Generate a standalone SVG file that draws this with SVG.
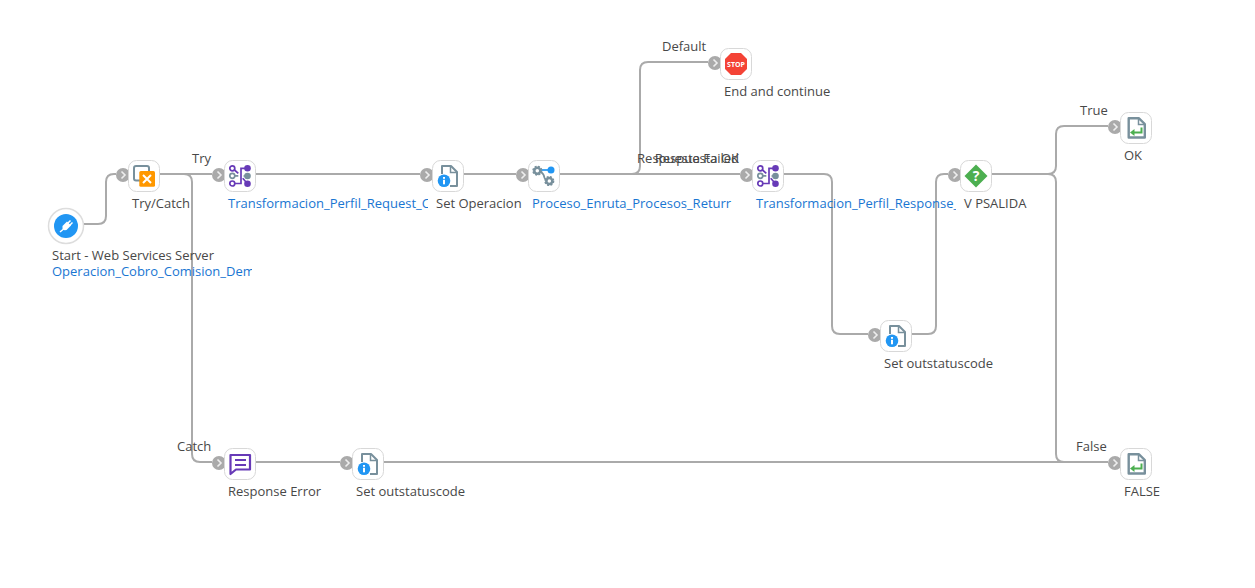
<svg xmlns="http://www.w3.org/2000/svg" width="1255" height="588" viewBox="0 0 1255 588">
<style>
text{font-family:"Open Sans","Noto Sans",sans-serif;font-size:13px;fill:#484848}
text.l{fill:#1976d2}
.c{fill:none;stroke:#aaa;stroke-width:2}
.b{fill:#fff;stroke:#d8d8d8;stroke-width:1}
.p{fill:#aaa}
.pc{fill:none;stroke:#eee;stroke-width:1.600}
.g{fill:none;stroke:#78909c;stroke-width:2}
.v{fill:none;stroke:#673ab7;stroke-width:1.700}
</style>
<defs>
<clipPath id="c1"><rect x="40" y="262" width="212" height="20"/></clipPath>
<clipPath id="c2"><rect x="224" y="194" width="204" height="20"/></clipPath>
<clipPath id="c3"><rect x="528" y="194" width="204" height="20"/></clipPath>
<clipPath id="c4"><rect x="752" y="194" width="204" height="20"/></clipPath>
<g id="box"><rect class="b" x="0.5" y="0.5" width="31" height="31" rx="8"/></g>
<g id="port"><circle class="p" r="7"/><path class="pc" d="M-1.500-3.500L2 0L-1.500 3.500"/></g>
<g id="map">
<use href="#box"/>
<circle class="v" cx="8.300" cy="8.300" r="2.500"/><circle class="g" style="stroke-width:1.700" cx="8.300" cy="15.800" r="2.500"/><circle class="v" cx="8.300" cy="23.500" r="2.500"/>
<circle cx="23.500" cy="8.300" r="3.300" fill="#673ab7"/><circle cx="23.500" cy="16" r="3.300" fill="#78909c"/><circle cx="23.500" cy="23.700" r="3.300" fill="#673ab7"/>
<path class="v" d="M10.500 10L14.300 13.300M10.800 23.500H17V8.300H22"/><path class="g" style="stroke-width:1.700" d="M11 15.800H14.300M19.500 16H23"/><path class="v" d="M18.700 18.300L22.700 22.700"/>
</g>
<g id="info">
<use href="#box"/>
<path class="g" d="M10 14V6H19L25 12V26H18" stroke-linejoin="round"/><path class="g" style="stroke-width:1.500" d="M18.500 6V12.500H25"/>
<circle cx="12" cy="20.700" r="6.300" fill="#2196f3"/><rect x="11" y="19.800" width="2" height="4.500" fill="#fff"/><rect x="11" y="17" width="2" height="1.800" fill="#fff"/>
</g>
<g id="ret">
<use href="#box"/>
<path class="g" style="stroke-width:2.400" d="M8.700 6.300H19L24.800 12V25.500H8.700Z" stroke-linejoin="round"/><path class="g" d="M18.500 6.300V12.500H24.800" style="stroke-width:1.500"/>
<path d="M21.500 15.500V20.500H12" fill="none" stroke="#4caf50" stroke-width="2"/><path d="M14.500 17L10 20.500L14.500 24Z" fill="#4caf50"/>
</g>
<g id="gear"><circle r="3" fill="none" stroke="#78909c" stroke-width="2.500"/><circle r="4.300" fill="none" stroke="#78909c" stroke-width="1.500" stroke-dasharray="2 1.400"/></g>
</defs>
<g id="connectors">
<path class="c" d="M83 224H98q8 0 8-8V182q0-8 8-8H116"/>
<path class="c" d="M160 174H212"/>
<path class="c" d="M160 174H184q8 0 8 8V454q0 8 8 8H212"/>
<path class="c" d="M256 174H420"/>
<path class="c" d="M464 174H516"/>
<path class="c" d="M560 174H740"/>
<path class="c" d="M560 174H632q8 0 8-8V70q0-8 8-8H708"/>
<path class="c" d="M784 174H824q8 0 8 8V326q0 8 8 8H868"/>
<path class="c" d="M912 334H928q8 0 8-8V182q0-8 8-8H948"/>
<path class="c" d="M992 174H1048q8 0 8-8V134q0-8 8-8H1108"/>
<path class="c" d="M992 174H1048q8 0 8 8V454q0 8 8 8H1108"/>
<path class="c" d="M256 462H340"/>
<path class="c" d="M384 462H1108"/>
<use href="#port" x="123" y="175"/><use href="#port" x="219" y="175"/><use href="#port" x="427" y="175"/><use href="#port" x="523" y="175"/><use href="#port" x="747" y="175"/><use href="#port" x="715" y="63"/><use href="#port" x="955" y="175"/><use href="#port" x="875" y="335"/><use href="#port" x="1115" y="127"/><use href="#port" x="1115" y="463"/><use href="#port" x="219" y="463"/><use href="#port" x="347" y="463"/>
<text x="192" y="163">Try</text>
<text x="177" y="451">Catch</text>
<text x="662" y="51">Default</text>
<text x="739" y="163" text-anchor="end">Respuesta Failed</text>
<text x="739" y="163" text-anchor="end">Respuesta OK</text>
<text x="1080" y="115">True</text>
<text x="1076" y="451">False</text>
</g>
<g id="start">
<circle cx="66" cy="226" r="17.500" fill="#fff" stroke="#ddd" stroke-width="1.500"/><circle cx="66" cy="226" r="12" fill="#2196f3"/>
<path d="M62.500 226L67 221.500L71 225.500L66.500 230Q64 230.500 62.500 229.500Z" fill="#fff"/><path d="M67.500 223.500L70.500 220.500M69.500 225.500L72.500 222.500M63 229.500L60 232" stroke="#fff" stroke-width="1.500" fill="none"/>
<text x="52" y="260">Start - Web Services Server</text>
<text class="l" x="52" y="276" clip-path="url(#c1)">Operacion_Cobro_Comision_Dem</text>
</g>
<g id="trycatch">
<use href="#box" x="128" y="160"/>
<rect x="134" y="166" width="15" height="14.500" rx="2" fill="none" stroke="#78909c" stroke-width="2"/>
<rect x="139.300" y="171" width="15.700" height="15.700" rx="1.500" fill="#ff9800"/><path d="M143 175L151 183M151 175L143 183" stroke="#fff" stroke-width="2"/>
<text x="132" y="208">Try/Catch</text>
</g>
<g id="transform1">
<use href="#map" x="224" y="160"/>
<text class="l" x="228" y="208" clip-path="url(#c2)">Transformacion_Perfil_Request_C</text>
</g>
<g id="setoperacion">
<use href="#info" x="432" y="160"/>
<text x="436" y="208">Set Operacion</text>
</g>
<g id="proceso">
<use href="#box" x="528" y="160"/>
<path d="M541 170H551" stroke="#2196f3" stroke-width="1.700"/><path d="M541 172Q544 174 544.500 178L547 181" stroke="#78909c" stroke-width="1.700" fill="none"/>
<use href="#gear" x="537.300" y="170.700"/><use href="#gear" x="549.300" y="181"/>
<circle cx="551" cy="170" r="3.500" fill="#2196f3"/>
<text class="l" x="532" y="208" clip-path="url(#c3)">Proceso_Enruta_Procesos_Returr</text>
</g>
<g id="stop">
<use href="#box" x="720" y="48"/>
<path d="M731 53H741L747 59V69L741 75H731L725 69V59Z" fill="#f44336"/>
<text x="736" y="66.500" text-anchor="middle" style="font-size:7px;font-weight:700;fill:#fff">STOP</text>
<text x="724" y="96">End and continue</text>
</g>
<g id="transform2">
<use href="#map" x="752" y="160"/>
<text class="l" x="756" y="208" clip-path="url(#c4)">Transformacion_Perfil_Response_</text>
</g>
<g id="vpsalida">
<use href="#box" x="960" y="160"/>
<path d="M976 164.500L987.500 176L976 187.500L964.500 176Z" fill="#4caf50"/>
<text x="976" y="181" text-anchor="middle" style="font-size:14px;font-weight:700;fill:#fff">?</text>
<text x="964" y="208">V PSALIDA</text>
</g>
<g id="setout1">
<use href="#info" x="880" y="320"/>
<text x="884" y="368">Set outstatuscode</text>
</g>
<g id="ok">
<use href="#ret" x="1120" y="112"/>
<text x="1124" y="160">OK</text>
</g>
<g id="false">
<use href="#ret" x="1120" y="448"/>
<text x="1124" y="496">FALSE</text>
</g>
<g id="responseerror">
<use href="#box" x="224" y="448"/>
<path d="M230.500 455H250V469.500H236L230.500 474Z" fill="none" stroke="#673ab7" stroke-width="2.200" stroke-linejoin="round"/><path d="M235 460H246M235 465H246" stroke="#673ab7" stroke-width="2"/>
<text x="228" y="496">Response Error</text>
</g>
<g id="setout2">
<use href="#info" x="352" y="448"/>
<text x="356" y="496">Set outstatuscode</text>
</g>
</svg>
